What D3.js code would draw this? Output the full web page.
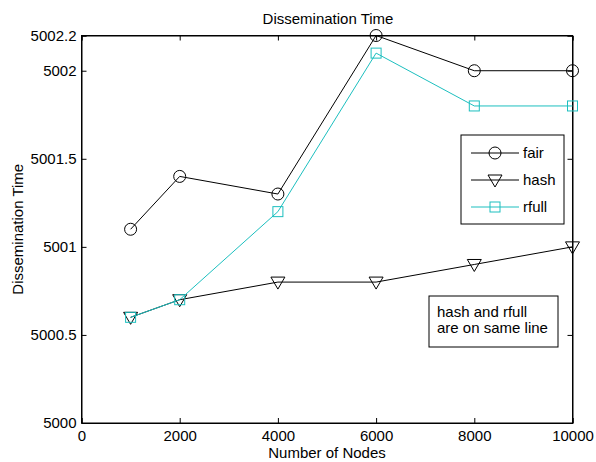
<!DOCTYPE html>
<html>
<head>
<meta charset="utf-8">
<script src="https://cdn.jsdelivr.net/npm/d3@7"></script>
<style>
  body { margin: 0; background: #fff; }
  text { font-family: "Liberation Sans", Arial, sans-serif; }
</style>
</head>
<body>
<div id="chart"></div>
<script>
// Data
const nodes = [1000, 2000, 4000, 6000, 8000, 10000];
const fair  = [5001.1, 5001.4, 5001.3, 5002.2, 5002.0, 5002.0];
const hash  = [5000.6, 5000.7, 5000.8, 5000.8, 5000.9, 5001.0];
const rfull = [5000.6, 5000.7, 5001.2, 5002.1, 5001.8, 5001.8];
const xTicks = [0, 2000, 4000, 6000, 8000, 10000];
const yTicks = [5000, 5000.5, 5001, 5001.5, 5002, 5002.2];

const w = 596, h = 462;
const m = { left: 81.5, right: 23.5, top: 35.5, bottom: 39 };
const fs = 15;

const svg = d3.select("#chart").append("svg")
  .attr("width", w)
  .attr("height", h);

const x = d3.scaleLinear().domain([0, 10000]).range([m.left, w - m.right]);
const y = d3.scaleLinear().domain([5000, 5002.2]).range([h - m.bottom, m.top]);

// Axes: ticks pointing inward, mirrored on top/right
const tickLen = 5;
svg.append("g")
  .attr("transform", `translate(0,${h - m.bottom})`)
  .call(d3.axisBottom(x).tickValues(xTicks).tickSize(-tickLen).tickPadding(7).tickFormat(d3.format("d")));
svg.append("g")
  .attr("transform", `translate(0,${m.top})`)
  .call(d3.axisTop(x).tickValues(xTicks).tickSize(-tickLen).tickFormat(""));
svg.append("g")
  .attr("transform", `translate(${m.left},0)`)
  .call(d3.axisLeft(y).tickValues(yTicks).tickSize(-tickLen).tickPadding(5).tickFormat(d => String(+d.toFixed(1))));
svg.append("g")
  .attr("transform", `translate(${w - m.right},0)`)
  .call(d3.axisRight(y).tickValues(yTicks).tickSize(-tickLen).tickFormat(""));

svg.selectAll(".domain").attr("stroke", "#000").attr("stroke-width", 1);
svg.selectAll(".tick line").attr("stroke", "#000");
svg.selectAll(".tick text").attr("font-size", fs).attr("fill", "#000")
  .style("font-family", "'Liberation Sans', Arial, sans-serif");

// Box outline
svg.append("rect")
  .attr("x", m.left).attr("y", m.top)
  .attr("width", w - m.left - m.right).attr("height", h - m.top - m.bottom)
  .attr("fill", "none").attr("stroke", "#000");

// Titles
svg.append("text")
  .attr("x", 328).attr("y", 24)
  .attr("text-anchor", "middle").attr("font-size", fs)
  .text("Dissemination Time");
svg.append("text")
  .attr("x", 327).attr("y", 458)
  .attr("text-anchor", "middle").attr("font-size", fs)
  .text("Number of Nodes");
svg.append("text")
  .attr("transform", `translate(23,${(m.top + h - m.bottom) / 2}) rotate(-90)`)
  .attr("text-anchor", "middle").attr("font-size", fs)
  .text("Dissemination Time");

const cyan = "#1cbfbf";
const series = [
  { name: "fair", values: fair, color: "#000", marker: "circle" },
  { name: "hash", values: hash, color: "#000", marker: "tri" },
  { name: "rfull", values: rfull, color: cyan, marker: "square" }
];

function drawMarker(g, type, cx, cy, color) {
  if (type === "circle") {
    g.append("circle").attr("cx", cx).attr("cy", cy).attr("r", 6)
      .attr("fill", "none").attr("stroke", color);
  } else if (type === "tri") {
    g.append("path")
      .attr("d", `M${cx - 7},${cy - 5}L${cx + 7},${cy - 5}L${cx},${cy + 7}Z`)
      .attr("fill", "none").attr("stroke", color);
  } else {
    g.append("rect").attr("x", cx - 5).attr("y", cy - 5).attr("width", 10).attr("height", 10)
      .attr("fill", "none").attr("stroke", color);
  }
}

const line = d3.line().x(d => x(d[0])).y(d => y(d[1]));

series.forEach(s => {
  const g = svg.append("g").attr("class", "series-" + s.name);
  const pts = nodes.map((n, i) => [n, s.values[i]]);
  g.append("path")
    .attr("d", line(pts))
    .attr("fill", "none")
    .attr("stroke", s.color)
    .attr("stroke-width", 1);
  pts.forEach(p => drawMarker(g, s.marker, x(p[0]), y(p[1]), s.color));
});

// Legend
const lg = svg.append("g").attr("transform", "translate(461,135)");
lg.append("rect").attr("width", 103).attr("height", 89)
  .attr("fill", "#fff").attr("stroke", "#000");
series.forEach((s, i) => {
  const ly = 18 + i * 27;
  lg.append("line").attr("x1", 10).attr("x2", 58).attr("y1", ly).attr("y2", ly)
    .attr("stroke", s.color);
  drawMarker(lg, s.marker, 34, ly, s.color);
  lg.append("text").attr("x", 62).attr("y", ly + 5).attr("font-size", fs).text(s.name);
});

// Note box
const nb = svg.append("g").attr("transform", "translate(429,296)");
nb.append("rect").attr("width", 129).attr("height", 51)
  .attr("fill", "#fff").attr("stroke", "#000");
nb.append("text").attr("x", 8).attr("y", 21).attr("font-size", fs).text("hash and rfull");
nb.append("text").attr("x", 8).attr("y", 37).attr("font-size", fs).text("are on same line");
</script>
</body>
</html>
